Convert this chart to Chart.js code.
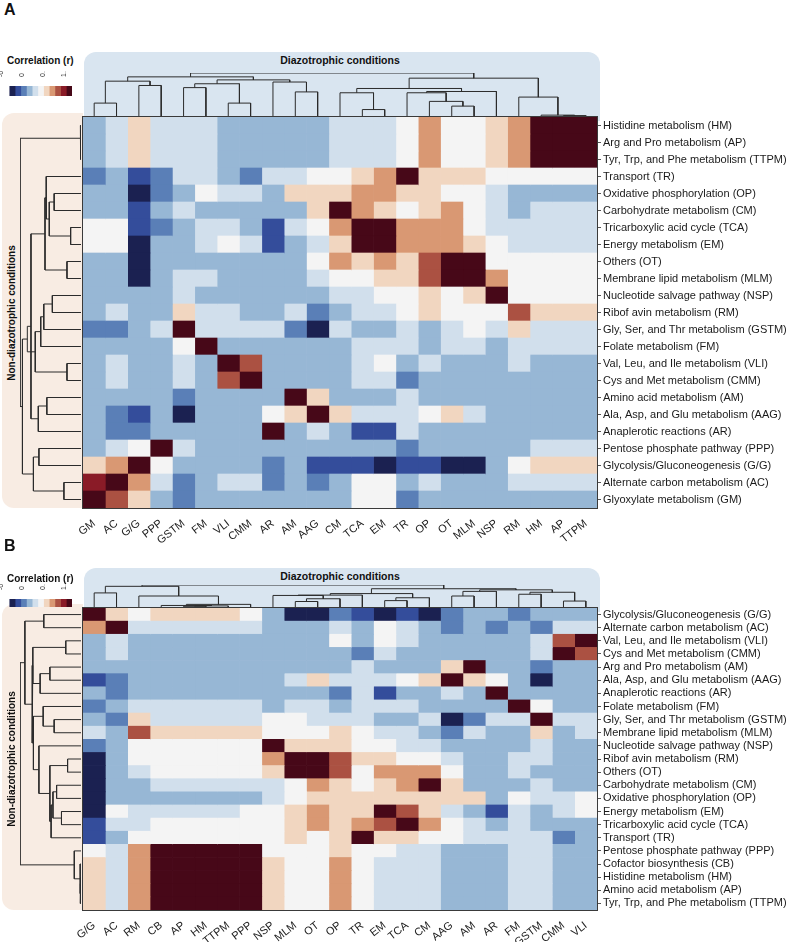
<!DOCTYPE html>
<html>
<head>
<meta charset="utf-8">
<script src="https://cdn.jsdelivr.net/npm/chart.js@4.4.1/dist/chart.umd.min.js"></script>
<style>
  body { margin: 0; background: #fff; }
  #page { position: relative; width: 790px; height: 942px; overflow: hidden;
          font-family: 'Liberation Sans', Arial, sans-serif; color: #111; }
  #page div, #page canvas { position: absolute; }
  .letter { font-weight: bold; font-size: 16px; }
  .title { font-weight: bold; font-size: 10px; white-space: nowrap; }
  .head { background: #d9e5f0; border-radius: 12px 12px 0 0; }
  .side { background: #f8ece3; border-radius: 12px 0 0 12px; }
</style>
</head>
<body>
<div id="page"></div>
<script>
Chart.defaults.font.family = "'Liberation Sans', Arial, sans-serif";
Chart.defaults.animation = false;

// colour key (low -> high)
const keyColors = ['#1b2151', '#344d9b', '#5a7fb7', '#97b7d5', '#d1dfec', '#f4f4f4',
                   '#f1d6c0', '#d99873', '#ab5142', '#8a1b27', '#470818'];
const keyMin = -0.5;
const keyMax = 1;
const keyTicks = [-0.5, 0, 0.5, 1];

// ---- panel A ----
const colsA = ['GM', 'AC', 'G/G', 'PPP', 'GSTM', 'FM', 'VLI', 'CMM', 'AR', 'AM', 'AAG', 'CM',
               'TCA', 'EM', 'TR', 'OP', 'OT', 'MLM', 'NSP', 'RM', 'HM', 'AP', 'TTPM'];
const rowsA = ['Histidine metabolism (HM)', 'Arg and Pro metabolism (AP)',
  'Tyr, Trp, and Phe metabolism (TTPM)', 'Transport (TR)', 'Oxidative phosphorylation (OP)',
  'Carbohydrate metabolism (CM)', 'Tricarboxylic acid cycle (TCA)', 'Energy metabolism (EM)',
  'Others (OT)', 'Membrane lipid metabolism (MLM)', 'Nucleotide salvage pathway (NSP)',
  'Ribof avin metabolism (RM)', 'Gly, Ser, and Thr metabolism (GSTM)', 'Folate metabolism (FM)',
  'Val, Leu, and Ile metabolism (VLI)', 'Cys and Met metabolism (CMM)', 'Amino acid metabolism (AM)',
  'Ala, Asp, and Glu metabolism (AAG)', 'Anaplerotic reactions (AR)', 'Pentose phosphate pathway (PPP)',
  'Glycolysis/Gluconeogenesis (G/G)', 'Alternate carbon metabolism (AC)', 'Glyoxylate metabolism (GM)'];
const valuesA = [
  [0,.1,.4,.1,.1,.1,0,0,0,0,0,.1,.1,.1,.25,.55,.25,.25,.4,.55,.97,.97,.97],
  [0,.1,.4,.1,.1,.1,0,0,0,0,0,.1,.1,.1,.25,.55,.25,.25,.4,.55,.97,.97,.97],
  [0,.1,.4,.1,.1,.1,0,0,0,0,0,.1,.1,.1,.25,.55,.25,.25,.4,.55,.97,.97,.97],
  [-.15,0,-.3,-.15,.1,.1,0,-.15,.1,.1,.25,.25,.4,.55,.97,.4,.4,.4,.25,.25,.25,.25,.25],
  [0,0,-.45,-.15,0,.25,.1,.1,0,.4,.4,.4,.55,.55,.4,.4,.25,.25,.1,0,0,0,0],
  [0,0,-.3,0,.1,0,0,0,0,0,.4,.97,.55,.4,.25,.4,.55,.25,.1,0,.1,.1,.1],
  [.25,.25,-.3,-.15,0,.1,.1,0,-.3,.1,.25,.55,.97,.97,.55,.55,.55,.25,.1,.1,.1,.1,.1],
  [.25,.25,-.45,0,0,.1,.25,.1,-.3,0,.1,.4,.97,.97,.55,.55,.55,.4,.25,.1,.1,.1,.1],
  [0,0,-.45,0,0,0,0,0,0,0,.25,.55,.4,.55,.4,.7,.97,.97,.25,.25,.25,.25,.25],
  [0,0,-.45,0,.1,.1,0,0,0,0,.1,.25,.25,.4,.4,.7,.97,.97,.55,.25,.25,.25,.25],
  [0,0,0,0,.1,0,0,0,0,0,0,.1,.1,.25,.25,.4,.25,.4,.97,.25,.25,.25,.25],
  [0,.1,0,0,.4,.1,.1,0,0,.1,-.15,0,.1,.1,.25,.4,.25,.25,.25,.7,.4,.4,.4],
  [-.15,-.15,0,.1,.97,.1,.1,.1,.1,-.15,-.45,.1,0,0,.1,0,.1,.25,.1,.4,.1,.1,.1],
  [0,0,0,0,.25,.97,0,0,0,0,0,0,.1,.1,.1,0,.1,.1,0,.1,.1,.1,.1],
  [0,.1,0,0,.1,0,.97,.7,0,0,0,0,.1,.25,0,.1,0,0,0,.1,0,0,0],
  [0,.1,0,0,.1,0,.7,.97,0,0,0,0,.1,.1,-.15,0,0,0,0,0,0,0,0],
  [0,0,0,0,-.15,0,0,0,0,.97,.4,0,0,0,.1,0,0,0,0,0,0,0,0],
  [0,-.15,-.3,0,-.45,0,0,0,.25,.4,.97,.4,.1,.1,.1,.25,.4,.1,0,0,0,0,0],
  [0,-.15,-.15,0,0,0,0,0,.97,0,.1,0,-.3,-.3,.1,0,0,0,0,0,0,0,0],
  [0,.1,.25,.97,.1,0,0,0,0,0,0,0,0,0,-.15,0,0,0,0,0,.1,.1,.1],
  [.4,.55,.97,.25,0,0,0,0,-.15,0,-.3,-.3,-.3,-.45,-.3,-.3,-.45,-.45,0,.25,.4,.4,.4],
  [.85,.97,.55,.1,-.15,0,.1,.1,-.15,0,-.15,0,.25,.25,0,.1,0,0,0,.1,.1,.1,.1],
  [.97,.7,.4,0,-.15,0,0,0,0,0,0,0,.25,.25,-.15,0,0,0,0,0,0,0,0]
];
// dendrogram merges: [node, node, height]; leaves are 0..22, merge k makes node 23+k
const colTreeA = [[0,1,.30],[2,3,.71],[23,24,.81],[4,5,.66],[6,7,.30],[26,27,.75],[9,10,.56],
  [8,29,.79],[28,30,.84],[25,31,.91],[12,13,.15],[11,33,.54],[16,17,.23],[15,35,.34],[14,36,.54],
  [37,18,.57],[34,38,.64],[21,22,.01],[20,40,.02],[19,41,.44],[39,42,.88],[32,43,1]];
const rowTreeA = [[1,2,.005],[0,23,.01],[4,5,.44],[6,7,.17],[25,26,.52],[3,27,.57],[8,9,.23],
  [28,29,.59],[10,11,.47],[31,12,.61],[32,13,.66],[14,15,.23],[33,34,.75],[16,17,.56],[36,18,.7],
  [30,37,.82],[35,38,.88],[19,20,.69],[21,22,.28],[40,41,.78],[39,42,.96],[24,43,1]];

// ---- panel B ----
const colsB = ['G/G', 'AC', 'RM', 'CB', 'AP', 'HM', 'TTPM', 'PPP', 'NSP', 'MLM', 'OT', 'OP',
               'TR', 'EM', 'TCA', 'CM', 'AAG', 'AM', 'AR', 'FM', 'GSTM', 'CMM', 'VLI'];
const rowsB = ['Glycolysis/Gluconeogenesis (G/G)', 'Alternate carbon metabolism (AC)',
  'Val, Leu, and Ile metabolism (VLI)', 'Cys and Met metabolism (CMM)', 'Arg and Pro metabolism (AM)',
  'Ala, Asp, and Glu metabolism (AAG)', 'Anaplerotic reactions (AR)', 'Folate metabolism (FM)',
  'Gly, Ser, and Thr metabolism (GSTM)', 'Membrane lipid metabolism (MLM)',
  'Nucleotide salvage pathway (NSP)', 'Ribof avin metabolism (RM)', 'Others (OT)',
  'Carbohydrate metabolism (CM)', 'Oxidative phosphorylation (OP)', 'Energy metabolism (EM)',
  'Tricarboxylic acid cycle (TCA)', 'Transport (TR)', 'Pentose phosphate pathway (PPP)',
  'Cofactor biosynthesis (CB)', 'Histidine metabolism (HM)', 'Amino acid metabolism (AP)',
  'Tyr, Trp, and Phe metabolism (TTPM)'];
const valuesB = [
  [.97,.4,.25,.4,.4,.4,.4,.25,0,-.45,-.45,-.15,-.3,-.45,-.3,-.45,-.15,0,0,-.15,0,0,0],
  [.55,.97,.1,.1,.1,.1,.1,.1,0,0,0,.1,0,.25,.1,0,-.15,0,-.15,0,-.15,.1,.1],
  [0,.1,0,0,0,0,0,0,0,0,0,.25,0,.25,.1,0,0,0,0,0,.1,.7,.97],
  [0,.1,0,0,0,0,0,0,0,0,0,0,-.15,.1,0,0,0,0,0,0,.1,.97,.7],
  [0,0,0,0,0,0,0,0,0,0,0,0,.1,0,0,0,.4,.97,0,0,-.15,0,0],
  [-.3,-.15,0,0,0,0,0,0,0,.1,.4,.1,.1,.1,.25,.4,.97,.4,.25,0,-.45,0,0],
  [0,-.15,0,0,0,0,0,0,0,0,0,-.15,.1,-.3,0,0,.1,0,.97,0,0,0,0],
  [-.15,0,.1,.1,.1,.1,.1,.1,0,.1,.1,0,.1,.1,.1,0,0,0,0,.97,.25,0,0],
  [0,-.15,.4,.1,.1,.1,.1,.1,.25,.25,.1,.1,.1,0,0,.1,-.45,-.15,.1,.1,.97,.1,.1],
  [.1,0,.7,.4,.4,.4,.4,.4,.25,.25,.25,.4,.25,.1,.1,0,-.15,.1,0,0,.4,0,.1],
  [-.15,0,.25,.25,.25,.25,.25,.25,.97,.4,.4,.4,.25,.25,.1,.1,0,0,0,0,.1,0,0],
  [-.45,0,.25,.25,.25,.25,.25,.25,.55,.97,.97,.7,.4,.4,.25,.25,.1,0,0,.1,.1,0,0],
  [-.45,0,.1,.25,.25,.25,.25,.25,.4,.97,.97,.7,.25,.55,.55,.55,.25,0,0,.1,0,0,0],
  [-.45,0,0,.1,.1,.1,.1,.1,.1,.25,.55,.4,.25,.4,.55,.97,.4,0,0,0,.1,0,0],
  [-.45,0,0,0,0,0,0,0,.1,.25,.4,.4,.4,.4,.4,.4,.4,.4,0,.25,.1,.1,.25],
  [-.45,.25,.1,.1,.1,.1,.1,.25,.25,.4,.55,.4,.4,.97,.7,.4,.1,0,-.3,.1,0,.1,.25],
  [-.3,.1,.1,.25,.25,.25,.25,.25,.25,.4,.55,.4,.55,.7,.97,.55,.25,.1,0,.1,0,0,0],
  [-.3,0,.25,.25,.25,.25,.25,.25,.25,.4,.25,.4,.97,.4,.4,.25,.25,.1,.1,.1,.1,-.15,0],
  [.25,.1,.55,.97,.97,.97,.97,.97,.25,.25,.25,.4,.25,.25,.1,.1,0,0,0,.1,.1,0,0],
  [.4,.1,.55,.97,.97,.97,.97,.97,.4,.25,.25,.55,.25,.1,.1,.1,0,0,0,.1,.1,0,0],
  [.4,.1,.55,.97,.97,.97,.97,.97,.4,.25,.25,.55,.25,.1,.1,.1,0,0,0,.1,.1,0,0],
  [.4,.1,.55,.97,.97,.97,.97,.97,.4,.25,.25,.55,.25,.1,.1,.1,0,0,0,.1,.1,0,0],
  [.4,.1,.55,.97,.97,.97,.97,.97,.4,.25,.25,.55,.25,.1,.1,.1,0,0,0,.1,.1,0,0]
];
const colTreeB = [[0,1,.64],[4,5,.03],[24,6,.05],[3,25,.07],[26,7,.12],[2,27,.5],[23,28,.94],
  [9,10,.25],[30,11,.375],[8,31,.525],[32,12,.54],[13,14,.29],[34,15,.42],[33,35,.61],[16,17,.5],
  [37,18,.71],[19,20,.58],[21,22,.27],[39,40,.67],[38,41,.78],[36,42,.83],[29,43,1]];
const rowTreeB = [[0,1,.61],[2,3,.25],[4,5,.51],[25,6,.67],[24,26,.79],[8,9,.44],[7,28,.62],
  [11,12,.22],[13,14,.4],[15,16,.32],[31,32,.46],[33,17,.49],[30,34,.51],[10,35,.69],[29,36,.78],
  [27,37,.8],[23,38,.92],[20,21,.005],[40,22,.01],[19,41,.015],[18,42,.11],[39,43,1]];

const page = document.getElementById('page');
const HEAT_LEFT = 83;
const HEAT_RIGHT = 597;

function addDiv(cls, left, top, width, height, text) {
  const d = document.createElement('div');
  d.className = cls;
  d.style.left = left + 'px';
  d.style.top = top + 'px';
  if (width) d.style.width = width + 'px';
  if (height) d.style.height = height + 'px';
  if (text) d.textContent = text;
  page.appendChild(d);
  return d;
}

function addCanvas(left, top, width, height) {
  const c = document.createElement('canvas');
  c.width = width;
  c.height = height;
  c.style.left = left + 'px';
  c.style.top = top + 'px';
  page.appendChild(c);
  return c;
}

function cellColor(v) {
  const n = keyColors.length;
  const i = Math.floor((v - keyMin) / (keyMax - keyMin) * n);
  return keyColors[Math.max(0, Math.min(n - 1, i))];
}

// turn merge list into a polyline with gaps (null) between the U shapes
function treePoints(merges, leaves, alongX) {
  const pos = [], hgt = [];
  for (let i = 0; i < leaves; i++) { pos.push(i + 0.5); hgt.push(0); }
  const pts = [];
  const put = (p, h) => pts.push(alongX ? {x: p, y: h} : {x: h, y: p});
  merges.forEach(([a, b, h]) => {
    put(pos[a], hgt[a]); put(pos[a], h); put(pos[b], h); put(pos[b], hgt[b]);
    pts.push({x: alongX ? pos[b] : hgt[b], y: null});
    pos.push((pos[a] + pos[b]) / 2);
    hgt.push(h);
  });
  return pts;
}

const quiet = { legend: {display: false}, tooltip: {enabled: false} };

function drawTree(merges, n, alongX, left, top, width, height) {
  const canvas = addCanvas(left - 1, top - 1, width + 2, height + 2);
  const posAxis = { type: 'linear', display: false, min: 0, max: n, reverse: !alongX };
  const hAxis = { type: 'linear', display: false, min: 0, max: 1, reverse: !alongX };
  new Chart(canvas, {
    type: 'line',
    data: { datasets: [{ data: treePoints(merges, n, alongX), borderColor: '#2b2b2b', borderWidth: 1,
                         pointRadius: 0, tension: 0, fill: false, spanGaps: false }] },
    options: {
      responsive: false, events: [], layout: { padding: 1 }, plugins: quiet,
      scales: alongX ? { x: posAxis, y: hAxis } : { x: hAxis, y: posAxis }
    }
  });
}

const frame = {
  id: 'frame',
  afterDatasetsDraw(chart) {
    const {ctx, chartArea: a} = chart;
    ctx.save();
    ctx.strokeStyle = '#3a3a3a';
    ctx.lineWidth = 1;
    ctx.strokeRect(a.left - 0.5, a.top - 0.5, a.width + 1, a.height + 1);
    ctx.restore();
  }
};

function drawHeatmap(rows, cols, values, top, bottom) {
  const canvas = addCanvas(0, top - 10, 790, bottom - top + 10 + 45);
  const datasets = cols.map((c, j) => ({
    label: c,
    data: rows.map(() => [j, j + 1]),
    backgroundColor: rows.map((r, i) => cellColor(values[i][j])),
    borderWidth: 0, barPercentage: 1, categoryPercentage: 1, grouped: false
  }));
  new Chart(canvas, {
    type: 'bar',
    data: { labels: rows, datasets },
    options: {
      indexAxis: 'y', responsive: false, events: [], plugins: quiet,
      layout: { padding: { left: HEAT_LEFT, top: 10, right: 0, bottom: 0 } },
      scales: {
        x: { type: 'linear', min: 0, max: cols.length, display: false },
        cx: { type: 'category', labels: cols, position: 'bottom', offset: true,
              grid: { display: false }, border: { display: false },
              ticks: { autoSkip: false, minRotation: 38, maxRotation: 38, padding: 1,
                       color: '#222', font: { size: 11 } },
              afterFit: s => { s.height = 45; } },
        y: { position: 'right', offset: true,
             grid: { drawOnChartArea: false, offset: false, tickLength: 4, color: '#555' },
             border: { display: false },
             ticks: { autoSkip: false, padding: 2, color: '#1a1a1a', font: { size: 11 } },
             afterFit: s => { s.width = 790 - HEAT_RIGHT; } }
      }
    },
    plugins: [frame]
  });
}

function drawKey(left, top, barH) {
  const edges = keyColors.map((c, i) => keyMin + i * (keyMax - keyMin) / keyColors.length);
  edges.push(keyMax);
  const canvas = addCanvas(left - 8, top - 15, 64 + 16, 15 + barH);
  new Chart(canvas, {
    type: 'bar',
    data: { labels: [''], datasets: keyColors.map((c, i) => ({
      data: [[edges[i], edges[i + 1]]], backgroundColor: c, borderWidth: 0,
      barPercentage: 1, categoryPercentage: 1, grouped: false })) },
    options: {
      indexAxis: 'y', responsive: false, events: [], plugins: quiet,
      layout: { padding: { left: 8, right: 8 } },
      scales: {
        x: { type: 'linear', position: 'top', min: keyMin, max: keyMax,
             afterBuildTicks: s => { s.ticks = keyTicks.map(v => ({ value: v })); },
             ticks: { minRotation: 90, maxRotation: 90, padding: 1, color: '#333', font: { size: 7 } },
             grid: { display: false }, border: { display: false },
             afterFit: s => { s.height = 15; } },
        y: { display: false }
      }
    }
  });
}

function drawPanel(p) {
  addDiv('letter', 4, p.letterTop, 0, 0, p.letter);
  addDiv('head', HEAT_LEFT + 1, p.headTop, HEAT_RIGHT + 2 - HEAT_LEFT, p.heatTop - p.headTop + 4);
  addDiv('side', 2, p.heatTop - 4, HEAT_LEFT - 2, p.heatBottom - p.heatTop + 4);
  const head = addDiv('title', (HEAT_LEFT + HEAT_RIGHT) / 2, p.headTextTop, 0, 0, 'Diazotrophic conditions');
  head.style.transform = 'translateX(-50%)';
  head.style.fontSize = '10.5px';
  const side = addDiv('title', 11, (p.heatTop + p.heatBottom) / 2, 0, 0, 'Non-diazotrophic conditions');
  side.style.transform = 'translate(-50%, -50%) rotate(-90deg)';
  addDiv('title', 7, p.titleTop, 0, 0, 'Correlation (r)');
  drawKey(8, p.keyTop, p.keyH);
  drawTree(p.colTree, p.cols.length, true, HEAT_LEFT, p.rootTop, HEAT_RIGHT - HEAT_LEFT, p.heatTop - 1 - p.rootTop);
  drawTree(p.rowTree, p.rows.length, false, 20, p.heatTop, HEAT_LEFT - 2 - 20, p.heatBottom - p.heatTop);
  drawHeatmap(p.rows, p.cols, p.values, p.heatTop, p.heatBottom);
}

drawPanel({ letter: 'A', letterTop: 1, titleTop: 55, keyTop: 86, keyH: 10, headTop: 52, headTextTop: 54,
            rootTop: 73, heatTop: 117, heatBottom: 508,
            rows: rowsA, cols: colsA, values: valuesA, colTree: colTreeA, rowTree: rowTreeA });
drawPanel({ letter: 'B', letterTop: 537, titleTop: 573, keyTop: 599, keyH: 8, headTop: 568, headTextTop: 570,
            rootTop: 585, heatTop: 608, heatBottom: 910,
            rows: rowsB, cols: colsB, values: valuesB, colTree: colTreeB, rowTree: rowTreeB });
</script>
</body>
</html>
